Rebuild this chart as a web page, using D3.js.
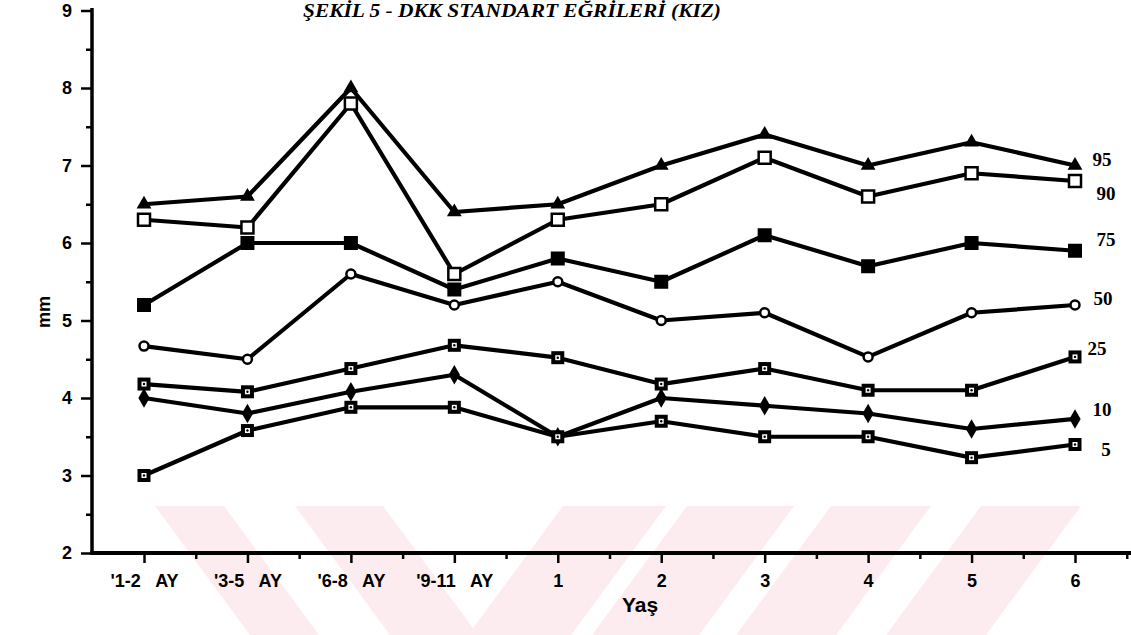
<!DOCTYPE html>
<html>
<head>
<meta charset="utf-8">
<script src="https://cdn.jsdelivr.net/npm/d3@7"></script>
<style>
  html, body { margin: 0; padding: 0; background: #fff; }
  svg { display: block; }
</style>
</head>
<body>
<svg id="chart" width="1131" height="635"></svg>
<script>
// ---- data ----
const categories = ["'1-2   AY", "'3-5   AY", "'6-8   AY", "'9-11   AY", "1", "2", "3", "4", "5", "6"];
const p95 = [6.5, 6.6, 8.0, 6.4, 6.5, 7.0, 7.4, 7.0, 7.3, 7.0];
const p90 = [6.3, 6.2, 7.8, 5.6, 6.3, 6.5, 7.1, 6.6, 6.9, 6.8];
const p75 = [5.2, 6.0, 6.0, 5.4, 5.8, 5.5, 6.1, 5.7, 6.0, 5.9];
const p50 = [4.67, 4.5, 5.6, 5.2, 5.5, 5.0, 5.1, 4.53, 5.1, 5.2];
const p25 = [4.18, 4.08, 4.38, 4.68, 4.52, 4.18, 4.38, 4.1, 4.1, 4.53];
const p10 = [4.0, 3.8, 4.08, 4.3, 3.5, 4.0, 3.9, 3.8, 3.6, 3.73];
const p5  = [3.0, 3.58, 3.88, 3.88, 3.5, 3.7, 3.5, 3.5, 3.23, 3.4];
const seriesNames = ["95", "90", "75", "50", "25", "10", "5"];
const yTicks = [2, 3, 4, 5, 6, 7, 8, 9];
const yMinorTicks = [2.5, 3.5, 4.5, 5.5, 6.5, 7.5, 8.5];
const titleText = "ŞEKİL 5 - DKK STANDART EĞRİLERİ (KIZ)";
const xTitle = "Yaş";
const yTitle = "mm";

// ---- setup ----
const svg = d3.select("#chart");
const W = 1131, H = 635;
const plotLeft = 92, plotBottom = 553, plotTop = 10.5, firstX = 144, lastX = 1075;

const x = d3.scalePoint().domain(categories).range([firstX, lastX]);
const xIdx = d3.scaleLinear().domain([0, categories.length - 1]).range([firstX, lastX]);
const y = d3.scaleLinear().domain([2, 9]).range([plotBottom, plotTop]);

// watermark (faint pink stripes of the scanned page)
const wm = svg.append("g").attr("fill", "#fdecef");
const stripes = [
  [[155,506],[224,506],[319,635],[250,635]],
  [[295,506],[383,506],[478,635],[390,635]],
  [[563,506],[666,506],[571,635],[468,635]],
  [[687,506],[794,506],[699,635],[592,635]],
  [[831,506],[931,506],[836,635],[736,635]],
  [[981,506],[1081,506],[986,635],[886,635]]
];
stripes.forEach(s => wm.append("polygon").attr("points", s.map(p => p.join(",")).join(" ")));

// title
svg.append("text")
  .attr("x", 303).attr("y", 17)
  .attr("textLength", 418).attr("lengthAdjust", "spacingAndGlyphs")
  .attr("font-family", "'Liberation Serif', 'DejaVu Serif', serif")
  .attr("font-weight", "bold").attr("font-style", "italic")
  .attr("font-size", 19)
  .text(titleText);

const sans = "'Liberation Sans', Arial, sans-serif";

// y axis
const yAxis = svg.append("g").attr("transform", `translate(${plotLeft},0)`)
  .call(d3.axisLeft(y).tickValues(yTicks).tickSize(11).tickPadding(9).tickFormat(d3.format("d")));
yAxis.select(".domain").remove();
yAxis.selectAll(".tick line").attr("stroke", "#000").attr("stroke-width", 2.5);
yAxis.selectAll("text").attr("font-family", sans)
  .attr("font-weight", "bold").attr("font-size", 18).attr("fill", "#000");
const yMinor = svg.append("g").attr("transform", `translate(${plotLeft},0)`)
  .call(d3.axisLeft(y).tickValues(yMinorTicks).tickSize(6).tickFormat(""));
yMinor.select(".domain").remove();
yMinor.selectAll(".tick line").attr("stroke", "#000").attr("stroke-width", 2.5);

// x axis
const xAxis = svg.append("g").attr("transform", `translate(0,${plotBottom})`)
  .call(d3.axisBottom(x).tickSize(10).tickPadding(9));
xAxis.select(".domain").remove();
xAxis.selectAll(".tick line").attr("stroke", "#000").attr("stroke-width", 2.5);
xAxis.selectAll("text").attr("font-family", sans).attr("font-weight", "bold")
  .attr("font-size", 18).attr("fill", "#000").style("white-space", "pre")
  .attr("dy", "0.85em");
const xMinorVals = d3.range(0.5, categories.length, 1);
const xMinor = svg.append("g").attr("transform", `translate(0,${plotBottom})`)
  .call(d3.axisBottom(xIdx).tickValues(xMinorVals).tickSize(6).tickFormat(""));
xMinor.select(".domain").remove();
xMinor.selectAll(".tick line").attr("stroke", "#000").attr("stroke-width", 2.5);

// axis lines
svg.append("line").attr("x1", plotLeft).attr("x2", plotLeft).attr("y1", 8).attr("y2", plotBottom + 1.5)
  .attr("stroke", "#000").attr("stroke-width", 3.5);
svg.append("line").attr("x1", plotLeft - 1.5).attr("x2", W).attr("y1", plotBottom).attr("y2", plotBottom)
  .attr("stroke", "#000").attr("stroke-width", 4);

// axis titles
svg.append("text").attr("x", 640).attr("y", 612).attr("text-anchor", "middle")
  .attr("font-family", sans).attr("font-weight", "bold").attr("font-size", 21).text(xTitle);
svg.append("text").attr("transform", "translate(50,312) rotate(-90)").attr("text-anchor", "middle")
  .attr("font-family", sans).attr("font-weight", "bold")
  .attr("font-size", 18).text(yTitle);

// series
const seriesData = [p95, p90, p75, p50, p25, p10, p5];
const line = d3.line().x((d, i) => x(categories[i])).y(d => y(d));
const lines = svg.append("g");
seriesData.forEach(s => {
  lines.append("path").datum(s).attr("d", line)
    .attr("fill", "none").attr("stroke", "#000").attr("stroke-width", 4.2)
    .attr("stroke-linejoin", "round");
});

const markerG = svg.append("g");
function drawMarker(kind, cx, cy) {
  const g = markerG.append("g").attr("transform", `translate(${cx},${cy})`);
  if (kind === "tri") {
    g.append("path").attr("d", d3.symbol(d3.symbolTriangle, 95)()).attr("fill", "#000");
  } else if (kind === "openSq") {
    g.append("rect").attr("x", -6).attr("y", -6).attr("width", 12).attr("height", 12)
      .attr("fill", "#fff").attr("stroke", "#000").attr("stroke-width", 2.5);
  } else if (kind === "fillSq") {
    g.append("rect").attr("x", -7).attr("y", -7).attr("width", 14).attr("height", 14).attr("fill", "#000");
  } else if (kind === "openDia") {
    g.append("circle").attr("r", 4.5).attr("fill", "#fff").attr("stroke", "#000").attr("stroke-width", 2.5);
  } else if (kind === "dotSq") {
    g.append("rect").attr("x", -6.5).attr("y", -6.5).attr("width", 13).attr("height", 13).attr("fill", "#000");
    g.append("rect").attr("x", -2.5).attr("y", -2.5).attr("width", 5).attr("height", 5).attr("fill", "#fff");
    g.append("circle").attr("r", 1.2).attr("fill", "#000");
  } else if (kind === "fillDia") {
    g.append("path").attr("d", d3.symbol(d3.symbolDiamond, 110)()).attr("fill", "#000");
  }
}
const kinds = ["tri", "openSq", "fillSq", "openDia", "dotSq", "fillDia", "dotSq"];
seriesData.forEach((s, k) => s.forEach((v, i) => drawMarker(kinds[k], x(categories[i]), y(v))));

// right-hand labels (centred)
const labelOffsets = [[27, -6], [31, 12], [31, -11], [28, -7], [22, -9], [27, -10], [31, 5]];
const labG = svg.append("g").attr("font-family", "'Liberation Serif', 'DejaVu Serif', serif")
  .attr("font-weight", "bold").attr("font-size", 19).attr("text-anchor", "middle");
seriesData.forEach((s, k) => {
  labG.append("text")
    .attr("x", x(categories[categories.length - 1]) + labelOffsets[k][0])
    .attr("y", y(s[s.length - 1]) + labelOffsets[k][1])
    .attr("dy", "0.35em")
    .text(seriesNames[k]);
});
</script>
</body>
</html>
